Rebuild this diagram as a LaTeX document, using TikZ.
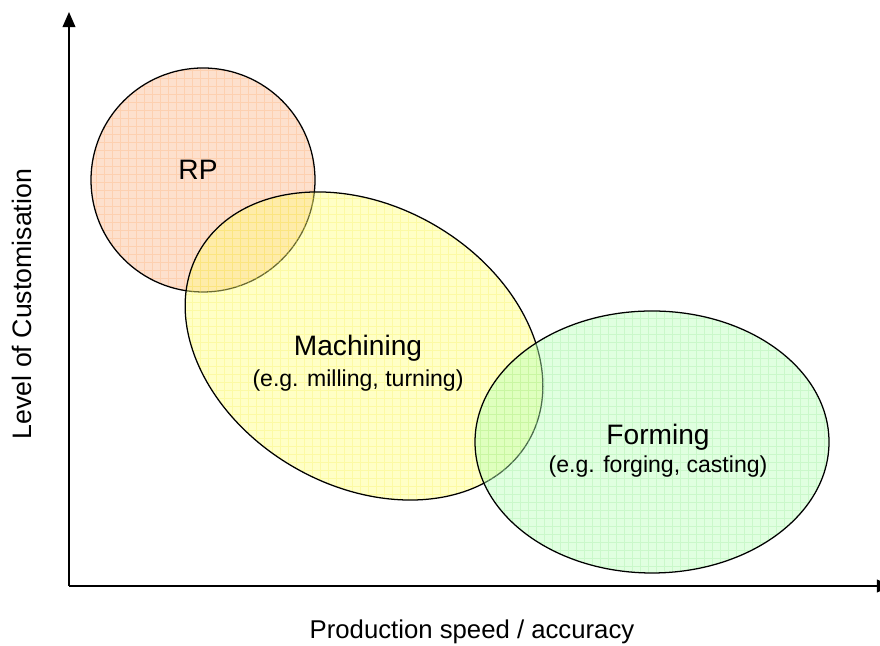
\documentclass[tikz,border=0pt]{standalone}
\usepackage{fontspec}
\setmainfont{Liberation Sans}
\usetikzlibrary{arrows.meta}
\definecolor{rpfill}{RGB}{250,180,135}
\definecolor{rpgrid}{RGB}{255,160,90}
\definecolor{mafill}{RGB}{255,255,120}
\definecolor{magrid}{RGB}{245,235,60}
\definecolor{fofill}{RGB}{180,255,180}
\definecolor{fogrid}{RGB}{140,230,140}
\tikzset{
  blob/.style  ={fill opacity=0.42, line width=0.9pt},
  gridln/.style={step=0.2, line width=0.3pt, opacity=0.25},
  axis/.style  ={-{Triangle[length=3.8mm, width=3.2mm]}, line width=1.1pt},
  big/.style   ={font=\fontsize{20}{24}\selectfont},
  small/.style ={font=\fontsize{16.4}{19}\selectfont},
}
\begin{document}
\begin{tikzpicture}
  \useasboundingbox (0,0) rectangle (22,16.15);
  % regions
  \fill[blob, rpfill] (5.075,11.65) circle (2.8);
  \begin{scope}
    \clip (5.075,11.65) circle (2.8);
    \draw[gridln, rpgrid] (2,8.6) grid (8.2,14.6);
  \end{scope}
  \draw[line width=0.9pt] (5.075,11.65) circle (2.8);
  \fill[blob, mafill, rotate around={-30:(9.1,7.5)}]
    (9.1,7.5) ellipse (4.75 and 3.5);
  \begin{scope}
    \clip[rotate around={-30:(9.1,7.5)}] (9.1,7.5) ellipse (4.75 and 3.5);
    \draw[gridln, magrid] (4.4,3.4) grid (13.8,11.6);
  \end{scope}
  \draw[line width=0.9pt, rotate around={-30:(9.1,7.5)}]
    (9.1,7.5) ellipse (4.75 and 3.5);
  \fill[blob, fofill] (16.3,5.1) ellipse (4.425 and 3.275);
  \begin{scope}
    \clip (16.3,5.1) ellipse (4.425 and 3.275);
    \draw[gridln, fogrid] (11.8,1.8) grid (20.8,8.4);
  \end{scope}
  \draw[line width=0.9pt] (16.3,5.1) ellipse (4.425 and 3.275);
  % labels
  \node[big] (rp) at (4.95,11.9) {RP};
  \node[big] (mach) at (8.95,7.45) {Machining};
  \node[small] (machsub) at (8.95,6.625) {(e.g. milling, turning)};
  \node[big] (form) at (16.45,5.225) {Forming};
  \node[small] (formsub) at (16.45,4.475) {(e.g. forging, casting)};
  % axes
  \coordinate (O) at (1.725,1.5);
  \coordinate (ytop) at (1.725,15.85);
  \coordinate (xend) at (22.3,1.5);
  \draw[axis] (O) -- (ytop);
  \draw[axis] (O) -- (xend);
  \node[font=\fontsize{18.3}{22}\selectfont] (xlab) at (11.8,0.35)
    {Production speed / accuracy};
  \node[font=\fontsize{19}{22}\selectfont, rotate=90] (ylab) at (0.55,8.55)
    {Level of Customisation};
\end{tikzpicture}
\end{document}
